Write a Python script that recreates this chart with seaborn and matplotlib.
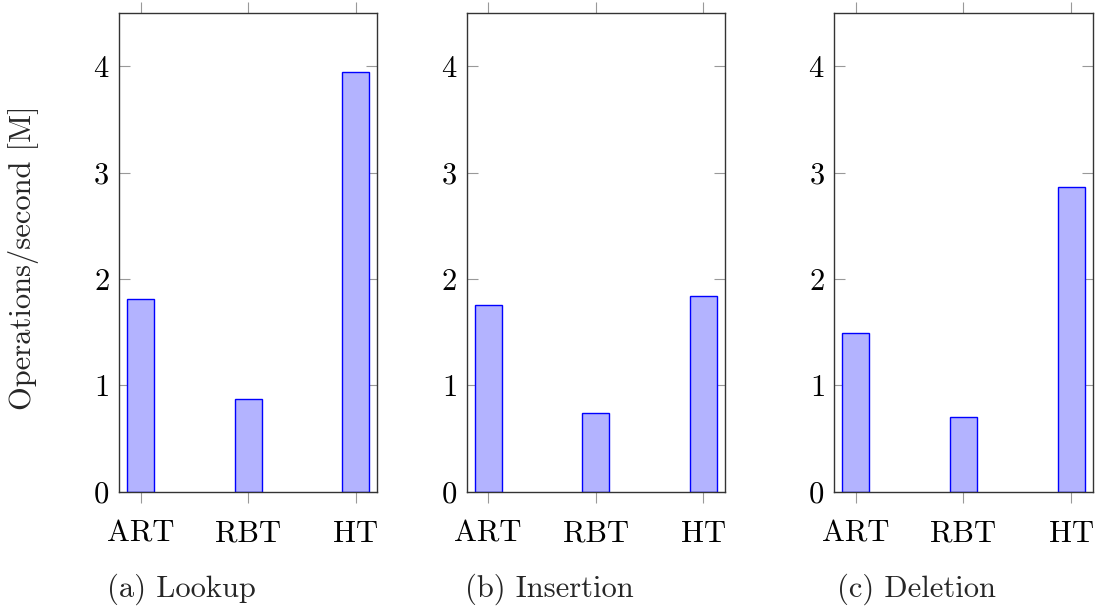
import numpy as np
import pandas as pd
import seaborn as sns
import matplotlib.pyplot as plt

# data (million operations / second)
structures = ['ART', 'RBT', 'HT']
lookup = [1.81, 0.875, 3.95]
insertion = [1.757, 0.744, 1.84]
deletion = [1.497, 0.70, 2.868]
captions = ['(a) Lookup', '(b) Insertion', '(c) Deletion']
y_ticks = [0, 1, 2, 3, 4]

sns.set_theme(style='white')
plt.rcParams['font.family'] = ['cmr10', 'DejaVu Serif']
plt.rcParams['axes.formatter.use_mathtext'] = True
fs = 22

W, H = 1097, 606
fig = plt.figure(figsize=(W / 100, H / 100), dpi=100)

ax_lefts = [119, 466.7, 834.3]
cap_lefts = [107, 465, 837]
ax_w, ax_top, ax_bot = 258.3, 13.3, 491.7

for i, vals in enumerate([lookup, insertion, deletion]):
    ax = fig.add_axes([ax_lefts[i] / W, 1 - ax_bot / H, ax_w / W, (ax_bot - ax_top) / H])
    df = pd.DataFrame({'structure': structures, 'ops': vals})
    sns.barplot(data=df, x='structure', y='ops', ax=ax, color='#b3b3ff',
                saturation=1, edgecolor='#0000ff', linewidth=1.0, width=0.25)
    ax.set_xlim(-0.2, 2.2)
    ax.set_ylim(0, 4.5)
    ax.set_yticks(y_ticks)
    ax.set_xlabel('')
    ax.set_ylabel('')
    for s in ax.spines.values():
        s.set_color('#333333')
        s.set_linewidth(1.0)
    ax.tick_params(axis='x', direction='out', top=True, bottom=True, length=8,
                   width=0.8, color='#999999', pad=12.5, labelsize=fs, labelcolor='black')
    ax.tick_params(axis='y', direction='in', left=True, right=True, length=8,
                   width=0.8, color='#999999', pad=7, labelsize=fs, labelcolor='black')
    if i == 0:
        ax.set_ylabel('Operations/second [M]', fontsize=fs)
        ax.yaxis.set_label_coords(-0.31, 0.49)
    fig.text(cap_lefts[i] / W, 1 - 597 / H, captions[i], ha='left', va='baseline', fontsize=fs)

fig.savefig('out.png', dpi=100)
